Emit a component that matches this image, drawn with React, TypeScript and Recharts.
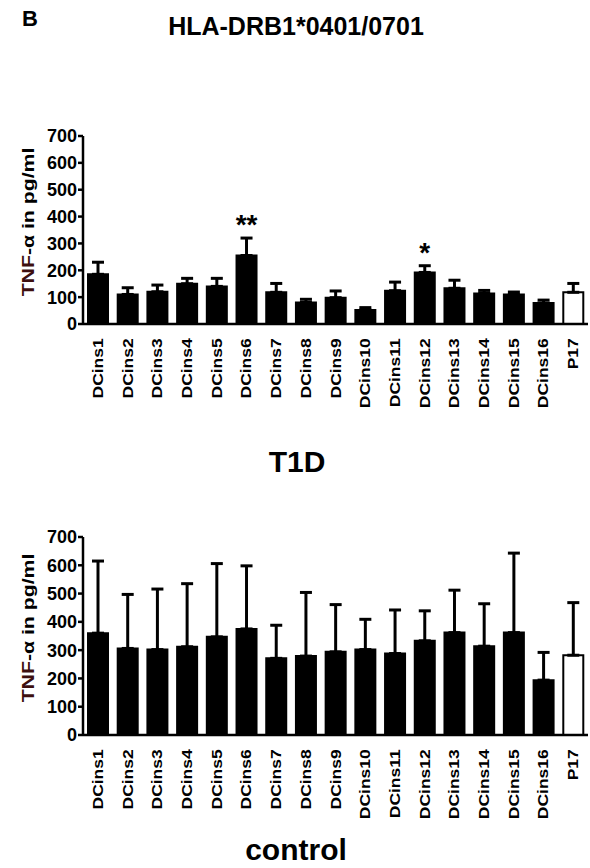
import { BarChart, Bar, XAxis, YAxis, ErrorBar, Cell, LabelList } from "recharts";

const categories = [
  "DCins1", "DCins2", "DCins3", "DCins4", "DCins5", "DCins6", "DCins7", "DCins8",
  "DCins9", "DCins10", "DCins11", "DCins12", "DCins13", "DCins14", "DCins15", "DCins16", "P17",
];

// T1D (HLA-DRB1*0401/0701)
const t1dMean = [185, 110, 120, 150, 140, 255, 118, 80, 98, 52, 124, 192, 133, 114, 110, 78, 118];
const t1dSem = [45, 25, 25, 20, 30, 65, 33, 12, 25, 9, 32, 25, 30, 11, 9, 11, 33];
const t1dSig = ["", "", "", "", "", "**", "", "", "", "", "", "*", "", "", "", "", ""];

// control
const ctrlMean = [360, 306, 302, 312, 347, 375, 271, 279, 294, 302, 288, 333, 362, 314, 362, 194, 282];
const ctrlSem = [255, 191, 214, 223, 259, 223, 117, 225, 167, 107, 154, 106, 150, 150, 281, 98, 186];

const yTicks = [0, 100, 200, 300, 400, 500, 600, 700];

const FONT = "'Liberation Sans', Arial, Helvetica, sans-serif";

const buildRows = (mean: number[], sem: number[], sig?: string[]) =>
  categories.map((name, i) => ({
    name,
    value: mean[i],
    err: [0, sem[i]],
    sig: sig ? sig[i] : "",
  }));

const XTick = ({ x, y, payload }: any) => (
  <g transform={`translate(${x},${y})`}>
    <text
      transform="rotate(-90) scale(1.25,1)"
      x={-5}
      dy={5}
      textAnchor="end"
      fontFamily={FONT}
      fontWeight={700}
      fontSize={14}
      fill="#000"
    >
      {payload.value}
    </text>
  </g>
);

const YLabel = ({ viewBox }: any) => {
  const cx = 28;
  const cy = viewBox.y + viewBox.height / 2 - 8;
  return (
    <text
      transform={`translate(${cx},${cy}) rotate(-90) scale(1.25,1)`}
      textAnchor="middle"
      dy={6}
      fontFamily={FONT}
      fontWeight={700}
      fontSize={17}
      fill="#000"
    >
      <tspan fill="#3d0f0f">TNF</tspan>-α in pg/ml
    </text>
  );
};

const Stars = (means: number[], sems: number[]) => (props: any) => {
  const { x, y, width, height, value, index } = props;
  if (!value) return null;
  const capY = y - sems[index] * (height / means[index]);
  return (
    <text
      x={x + width / 2}
      y={capY - 4}
      textAnchor="middle"
      fontFamily={FONT}
      fontWeight={700}
      fontSize={28}
      fill="#000"
    >
      {value}
    </text>
  );
};

function Panel({ data, height, top, means, sems, showStars }: any) {
  return (
    <BarChart
      width={590}
      height={height}
      data={data}
      margin={{ top, right: 2, left: 0, bottom: 0 }}
      barSize={20}
    >
      <XAxis
        dataKey="name"
        interval={0}
        height={86}
        tickLine={false}
        axisLine={{ stroke: "#000", strokeWidth: 2.5 }}
        tick={<XTick />}
      />
      <YAxis
        width={83}
        domain={[0, 700]}
        ticks={yTicks}
        interval={0}
        tickSize={5}
        tickMargin={1}
        axisLine={{ stroke: "#000", strokeWidth: 2.5 }}
        tickLine={{ stroke: "#000", strokeWidth: 2.5 }}
        tick={{ fill: "#000", fontSize: 18, fontWeight: 700, fontFamily: FONT }}
        label={<YLabel />}
      />
      <Bar dataKey="value" stroke="#000" strokeWidth={2} isAnimationActive={false}>
        {data.map((d: any, i: number) => (
          <Cell key={i} fill={d.name === "P17" ? "#fff" : "#000"} />
        ))}
        <ErrorBar dataKey="err" width={6} stroke="#000" strokeWidth={3} direction="y" />
        {showStars && <LabelList dataKey="sig" content={Stars(means, sems)} />}
      </Bar>
    </BarChart>
  );
}

export default function App() {
  const t1d = buildRows(t1dMean, t1dSem, t1dSig);
  const ctrl = buildRows(ctrlMean, ctrlSem);
  return (
    <div style={{ position: "absolute", left: 0, top: 0, width: 590, height: 868, background: "#fff" }}>
      <div style={{ position: "absolute", left: 0, top: 0 }}>
        <Panel data={t1d} height={410} top={136} means={t1dMean} sems={t1dSem} showStars />
      </div>
      <div style={{ position: "absolute", left: 0, top: 440 }}>
        <Panel data={ctrl} height={381} top={97} means={ctrlMean} sems={ctrlSem} />
      </div>
      <svg
        width={590}
        height={868}
        style={{ position: "absolute", left: 0, top: 0, pointerEvents: "none" }}
        fontFamily={FONT}
        fontWeight={700}
      >
        <text x={22} y={26} fontSize={22} fill="#000">B</text>
        <text x={296} y={35} fontSize={25} textAnchor="middle" fill="#000">HLA-DRB1*0401/0701</text>
        <text x={297} y={472} fontSize={30} textAnchor="middle" fill="#000">T1D</text>
        <text x={296} y={860} fontSize={30} textAnchor="middle" fill="#000">control</text>
      </svg>
    </div>
  );
}
